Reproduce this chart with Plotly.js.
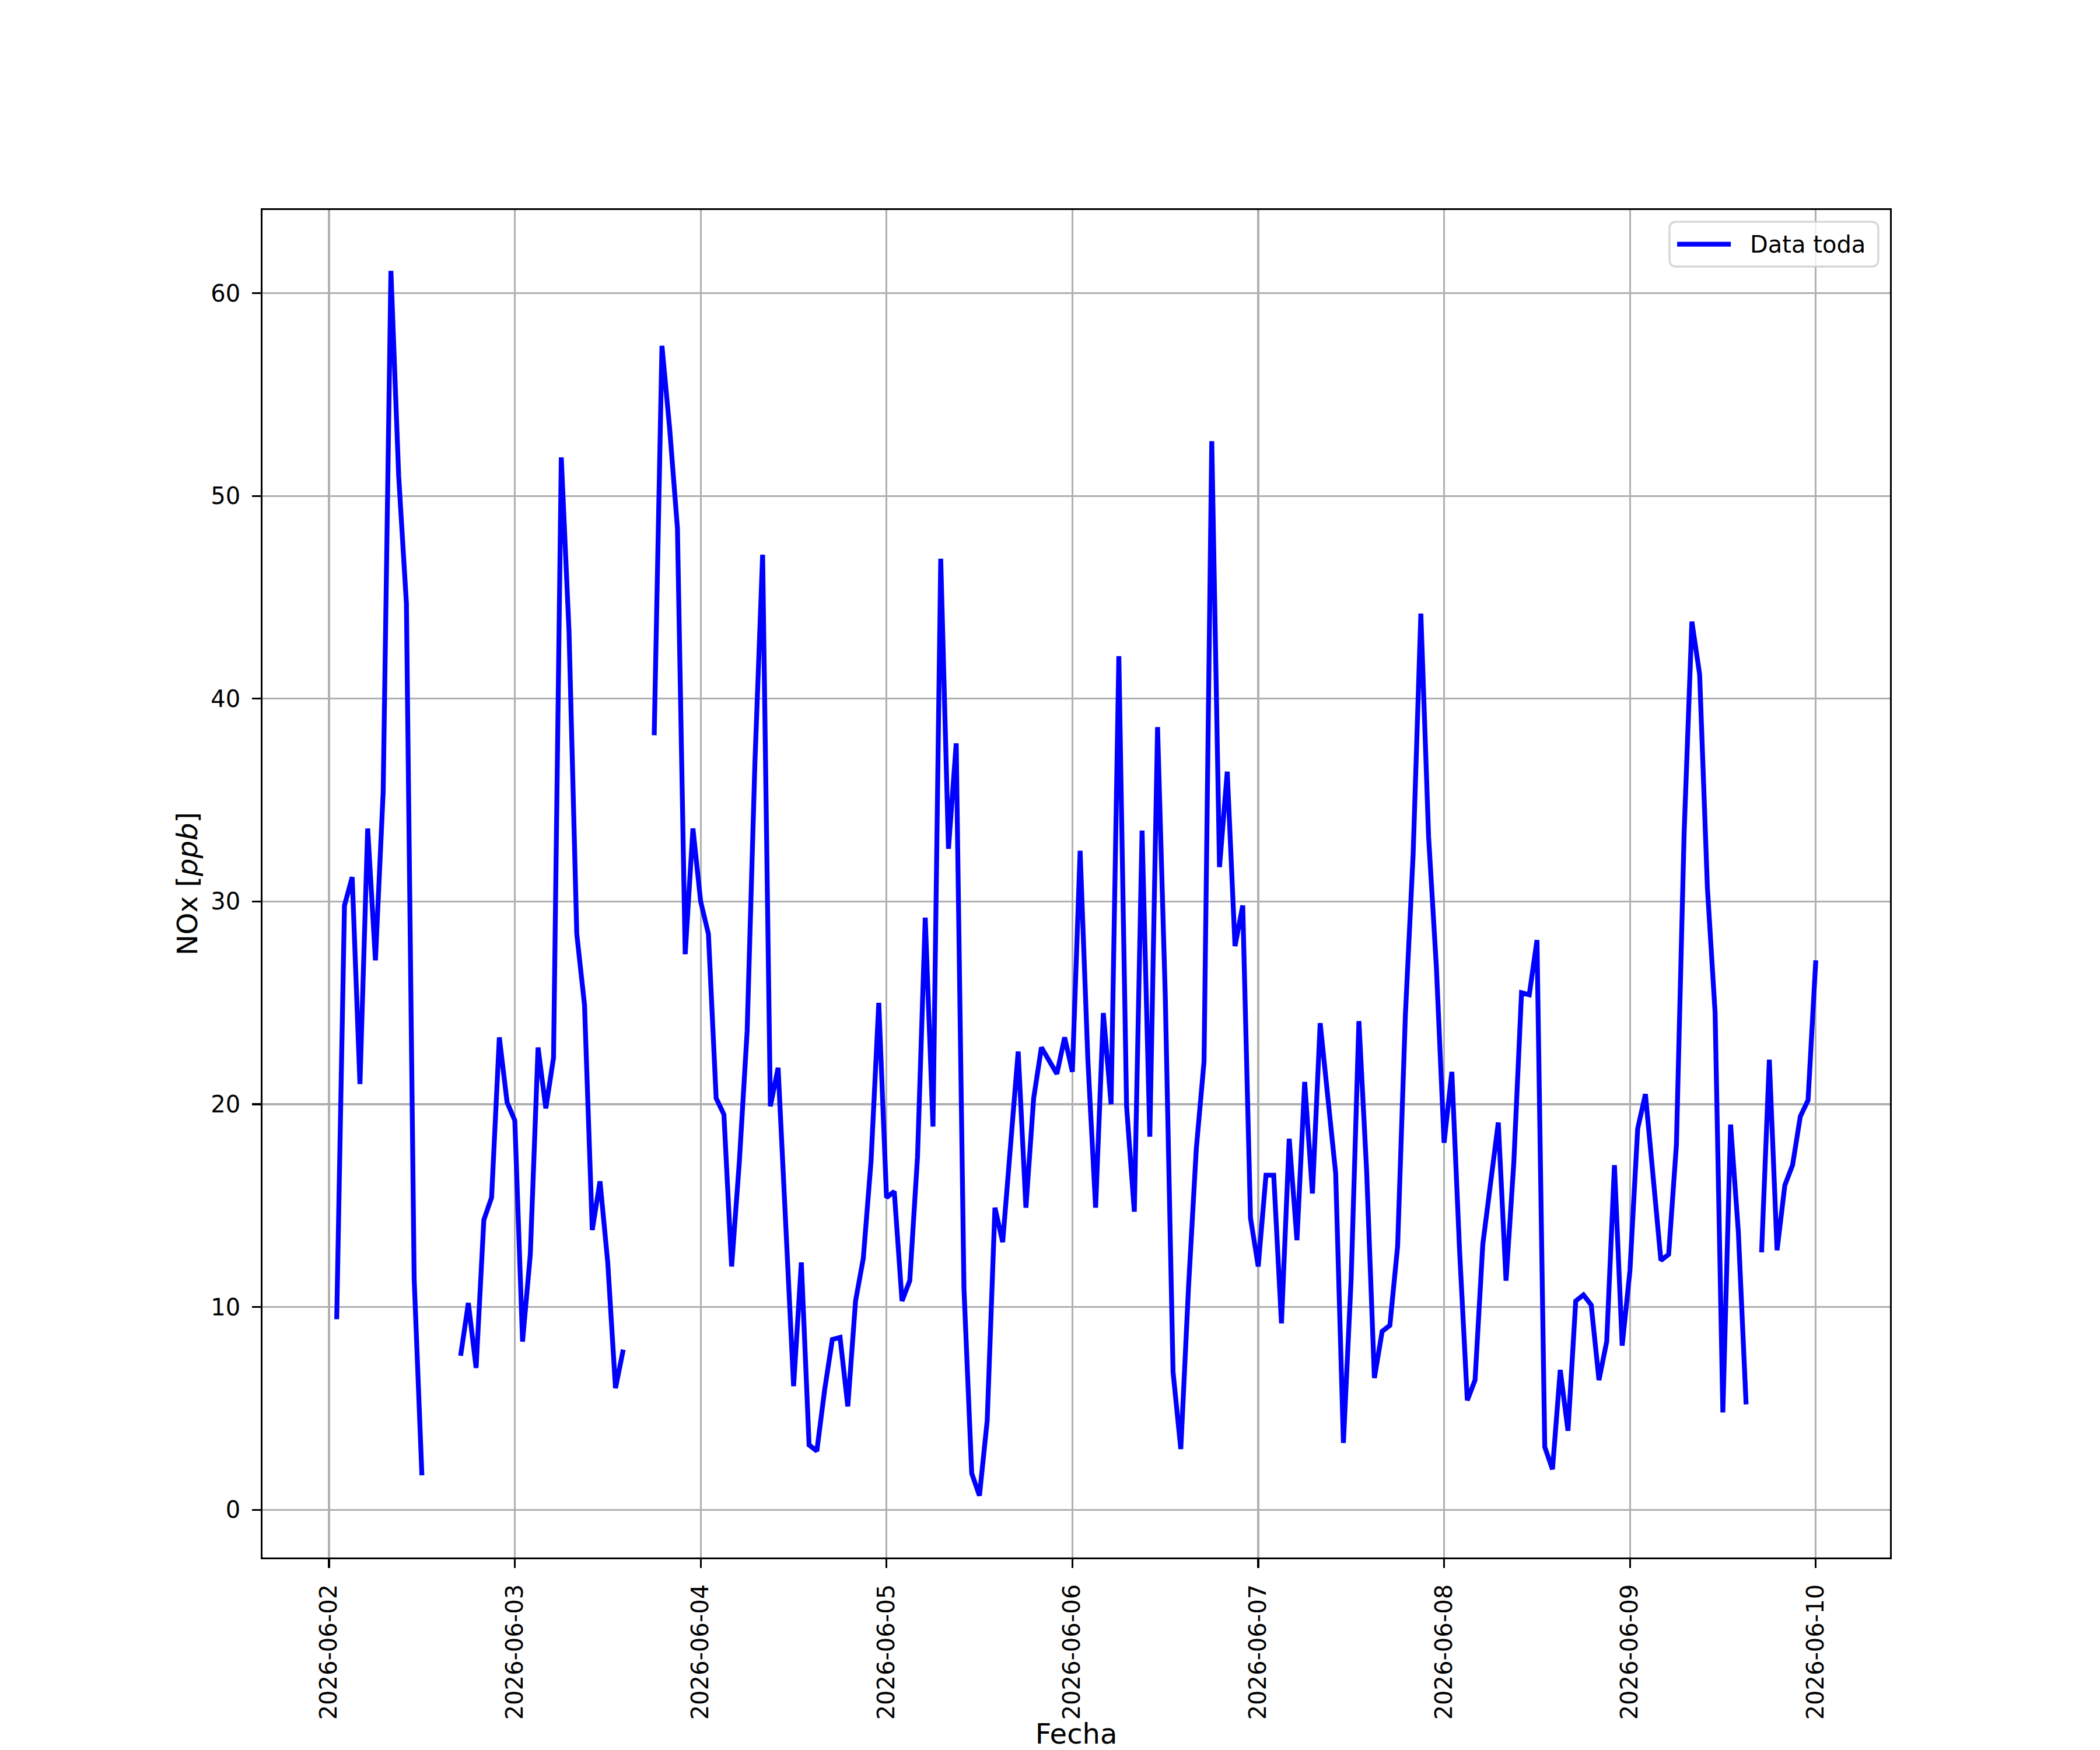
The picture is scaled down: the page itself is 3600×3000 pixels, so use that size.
<!DOCTYPE html>
<html>
<head>
<meta charset="utf-8">
<script src="https://cdn.plot.ly/plotly-3.0.1.min.js"></script>
<style>
html,body{margin:0;padding:0;background:#fff;}
#chart{width:3600px;height:3000px;}
</style>
</head>
<body>
<div id="chart"></div>
<script>
// Hourly NOx [ppb] values; first series starts 2026-06-02 01:00, others at 00:00
const d0602 = [9.4, 29.8, 31.2, 21.0, 33.6, 27.1, 35.4, 61.1, 51.0, 44.7, 11.4, 1.7,
  null, null, null, null, 7.6, 10.2, 7.0, 14.3, 15.4, 23.3, 20.1]; // hours 01..23
const d0603 = [19.2, 8.3, 12.6, 22.8, 19.8, 22.3, 51.9, 43.3, 28.4, 24.9, 13.8, 16.2,
  12.2, 6.0, 7.9, null, null, null, 38.2, 57.4, 53.3, 48.4, 27.4, 33.6];
const d0604 = [30.0, 28.4, 20.3, 19.5, 12.0, 17.2, 23.6, 36.8, 47.1, 19.9, 21.8, 13.5,
  6.1, 12.2, 3.2, 2.9, 5.9, 8.4, 8.5, 5.1, 10.3, 12.4, 17.2, 25.0];
const d0605 = [15.4, 15.7, 10.3, 11.3, 17.4, 29.2, 18.9, 46.9, 32.6, 37.8, 10.9, 1.8,
  0.7, 4.4, 14.9, 13.2, 17.6, 22.6, 14.9, 20.3, 22.8, 22.2, 21.5, 23.3];
const d0606 = [21.6, 32.5, 22.2, 14.9, 24.5, 20.0, 42.1, 19.9, 14.7, 33.5, 18.4, 38.6,
  25.3, 6.8, 3.0, 11.0, 17.8, 22.1, 52.7, 31.7, 36.4, 27.8, 29.8, 14.4];
const d0607 = [12.0, 16.5, 16.5, 9.2, 18.3, 13.3, 21.1, 15.6, 24.0, 20.3, 16.6, 3.3,
  11.4, 24.1, 16.7, 6.5, 8.8, 9.1, 13.0, 24.4, 32.3, 44.2, 33.2, 26.8];
const d0608 = [18.1, 21.6, 12.8, 5.4, 6.4, 13.1, 16.3, 19.1, 11.3, 17.1, 25.5, 25.4,
  28.1, 3.1, 2.0, 6.9, 3.9, 10.3, 10.6, 10.1, 6.4, 8.3, 17.0, 8.1];
const d0609 = [11.8, 18.8, 20.5, 16.1, 12.3, 12.6, 18.0, 33.4, 43.8, 41.2, 30.7, 24.5,
  4.8, 19.0, 13.7, 5.2, null, 12.7, 22.2, 12.8, 16.0, 17.0, 19.4, 20.2];
const d0610 = [27.1];

const seriesName = "Data toda";
const xTitle = "Fecha";
const yTitle = "NOx [<i>ppb</i>]";

const days = [
  {date: "2026-06-02", firstHour: 1, vals: d0602},
  {date: "2026-06-03", firstHour: 0, vals: d0603},
  {date: "2026-06-04", firstHour: 0, vals: d0604},
  {date: "2026-06-05", firstHour: 0, vals: d0605},
  {date: "2026-06-06", firstHour: 0, vals: d0606},
  {date: "2026-06-07", firstHour: 0, vals: d0607},
  {date: "2026-06-08", firstHour: 0, vals: d0608},
  {date: "2026-06-09", firstHour: 0, vals: d0609},
  {date: "2026-06-10", firstHour: 0, vals: d0610}
];

const xs = [], ys = [];
days.forEach(function(d){
  d.vals.forEach(function(v, i){
    const h = d.firstHour + i;
    xs.push(d.date + " " + (h < 10 ? "0" + h : h) + ":00:00");
    ys.push(v);
  });
});

const FONT = "DejaVu Sans, Liberation Sans, sans-serif";
const TICK = 40;
const BLUE = "#0000ff";
const LW = 8.3;

const trace = {
  x: xs, y: ys, type: "scatter", mode: "lines",
  name: seriesName,
  line: {color: BLUE, width: LW},
  connectgaps: false,
  showlegend: false
};

const axCommon = {
  showgrid: true, gridcolor: "#b0b0b0", gridwidth: 3.3,
  showline: true, linecolor: "#000000", linewidth: 3.3, mirror: true,
  ticks: "outside", ticklen: 14.6, tickwidth: 3.3, tickcolor: "#000000",
  tickfont: {family: FONT, size: TICK, color: "#000000"},
  zeroline: false
};

// custom matplotlib-like legend (paper coordinates)
const bx0 = 0.8645, bx1 = 0.9928, by0 = 0.9580, by1 = 0.9913;
const rx = 0.0043, ry = 0.0052;
const boxPath = "M" + (bx0 + rx) + "," + by1 +
  " L" + (bx1 - rx) + "," + by1 + " Q" + bx1 + "," + by1 + " " + bx1 + "," + (by1 - ry) +
  " L" + bx1 + "," + (by0 + ry) + " Q" + bx1 + "," + by0 + " " + (bx1 - rx) + "," + by0 +
  " L" + (bx0 + rx) + "," + by0 + " Q" + bx0 + "," + by0 + " " + bx0 + "," + (by0 + ry) +
  " L" + bx0 + "," + (by1 - ry) + " Q" + bx0 + "," + by1 + " " + (bx0 + rx) + "," + by1 + " Z";
const legY = (by0 + by1) / 2;

const layout = {
  width: 3600, height: 3000,
  paper_bgcolor: "#ffffff", plot_bgcolor: "#ffffff",
  margin: {l: 450, r: 360, t: 360, b: 330, pad: 0},
  showlegend: false,
  shapes: [
    {type: "path", xref: "paper", yref: "paper", path: boxPath,
     fillcolor: "rgba(255,255,255,0.8)", line: {color: "rgba(204,204,204,0.8)", width: 3.3}, layer: "above"},
    {type: "line", xref: "paper", yref: "paper", x0: 0.8692, x1: 0.9022, y0: legY, y1: legY,
     line: {color: BLUE, width: LW}, layer: "above"}
  ],
  annotations: [
    {xref: "paper", yref: "paper", x: 0.9133, y: legY, xanchor: "left", yanchor: "middle",
     text: seriesName, showarrow: false, font: {family: FONT, size: TICK, color: "#000000"}}
  ],
  xaxis: Object.assign({}, axCommon, {
    type: "date",
    range: ["2026-06-01 15:25:00", "2026-06-10 09:35:00"],
    dtick: 86400000, tick0: "2026-06-02",
    tickformat: "%Y-%m-%d", tickangle: -90,
    ticklabelstandoff: 12,
    title: {text: xTitle, font: {family: FONT, size: 48, color: "#000000"}, standoff: 32}
  }),
  yaxis: Object.assign({}, axCommon, {
    range: [-2.35, 64.1],
    dtick: 10, tick0: 0,
    ticklabelstandoff: 12,
    title: {text: yTitle, font: {family: FONT, size: 48, color: "#000000"}, standoff: 8}
  })
};

Plotly.newPlot("chart", [trace], layout, {staticPlot: true, displayModeBar: false});
</script>
</body>
</html>
